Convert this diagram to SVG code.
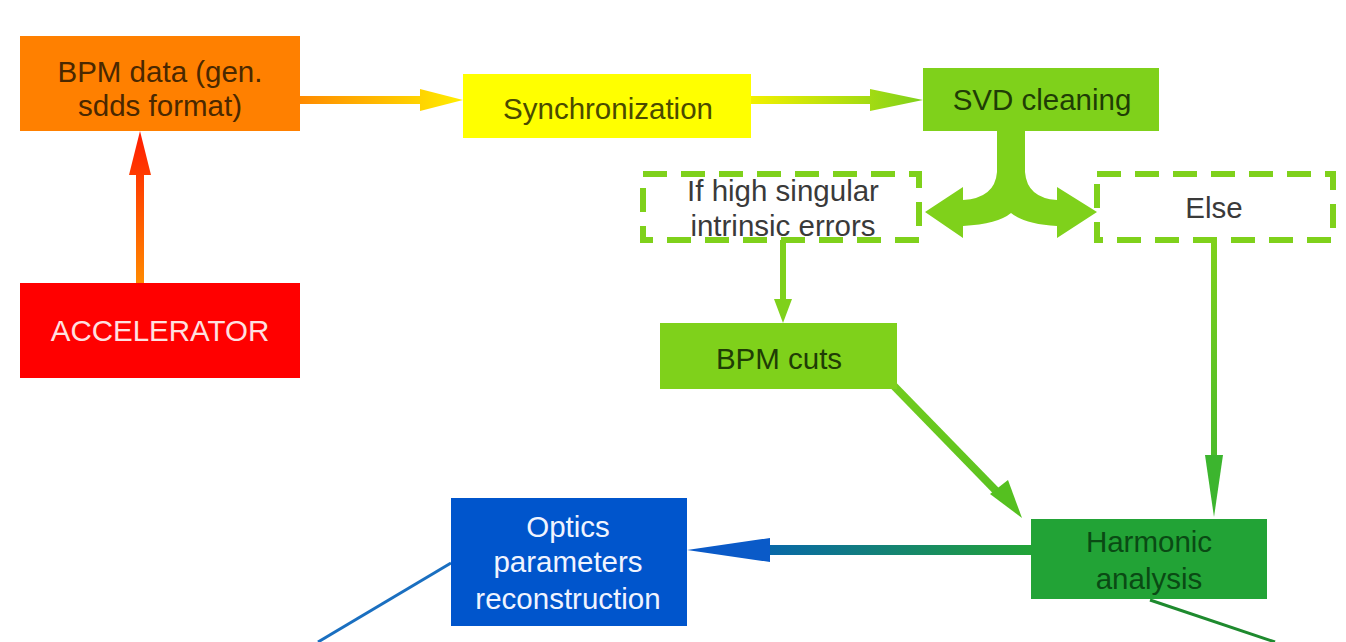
<svg xmlns="http://www.w3.org/2000/svg" width="1346" height="642" viewBox="0 0 1346 642">
<defs>
<style>
text{font-family:"Liberation Sans",Arial,sans-serif;font-size:29.5px;text-anchor:middle}
.dash{fill:none;stroke:#7fd11b;stroke-width:6;stroke-dasharray:24 14}
</style>
<linearGradient id="g1" gradientUnits="userSpaceOnUse" x1="300" y1="0" x2="463" y2="0"><stop offset="0" stop-color="#ff8a00"/><stop offset="1" stop-color="#ffee00"/></linearGradient>
<linearGradient id="g2" gradientUnits="userSpaceOnUse" x1="751" y1="0" x2="923" y2="0"><stop offset="0" stop-color="#f2f000"/><stop offset="1" stop-color="#7fd11b"/></linearGradient>
<linearGradient id="g3" gradientUnits="userSpaceOnUse" x1="0" y1="283" x2="0" y2="131"><stop offset="0" stop-color="#ff8a00"/><stop offset="1" stop-color="#ff1a00"/></linearGradient>
<linearGradient id="g4" gradientUnits="userSpaceOnUse" x1="0" y1="240" x2="0" y2="517"><stop offset="0" stop-color="#7fd11b"/><stop offset="1" stop-color="#3cb52e"/></linearGradient>
<linearGradient id="g5" gradientUnits="userSpaceOnUse" x1="893" y1="385" x2="1022" y2="517"><stop offset="0" stop-color="#72cc1e"/><stop offset="1" stop-color="#55c020"/></linearGradient>
<linearGradient id="g6" gradientUnits="userSpaceOnUse" x1="1031" y1="0" x2="687" y2="0"><stop offset="0" stop-color="#22a336"/><stop offset="1" stop-color="#0055cc"/></linearGradient>
</defs>
<g id="connectors">
<line x1="300" y1="100" x2="425" y2="100" stroke="url(#g1)" stroke-width="8"/>
<polygon points="420,89 463,100 420,111" fill="url(#g1)"/>
<line x1="751" y1="100" x2="875" y2="100" stroke="url(#g2)" stroke-width="8"/>
<polygon points="870,89 923,100 870,111" fill="url(#g2)"/>
<line x1="140" y1="283" x2="140" y2="170" stroke="url(#g3)" stroke-width="8"/>
<polygon points="129,175 140,131 151,175" fill="url(#g3)"/>
<path d="M997,130 H1025 V172 Q1027,198 1057,200 L1057,187 L1097,212 L1057,238 L1057,226 Q1024,224 1011,213 Q998,224 963,226 L963,238 L925,212 L963,187 L963,200 Q995,198 997,172 Z" fill="#7fd11b"/>
<line x1="783" y1="240" x2="783" y2="302" stroke="#7fd11b" stroke-width="6"/>
<polygon points="774,299 783,323 792,299" fill="#7fd11b"/>
<line x1="893" y1="385" x2="1004" y2="499" stroke="url(#g5)" stroke-width="8"/>
<polygon points="990,494 1022,518 1008,480" fill="#55c020"/>
<line x1="1214" y1="240" x2="1214" y2="460" stroke="url(#g4)" stroke-width="6"/>
<polygon points="1205,455 1214,517 1223,455" fill="#3cb52e"/>
<line x1="1031" y1="550" x2="765" y2="550" stroke="url(#g6)" stroke-width="10"/>
<polygon points="770,538 687,550 770,562" fill="#0a5ac8"/>
<line x1="451" y1="563" x2="318" y2="642" stroke="#1a6fc0" stroke-width="3"/>
<line x1="1150" y1="600" x2="1275" y2="642" stroke="#1e8a2e" stroke-width="3"/>
</g>
<g id="bpm-data"><rect x="20" y="36" width="280" height="95" fill="#ff8000"/><text x="160" y="82" fill="#4a2800">BPM data (gen.</text><text x="160" y="116" fill="#4a2800">sdds format)</text></g>
<g id="accelerator"><rect x="20" y="283" width="280" height="95" fill="#ff0000"/><text x="160" y="341" fill="#ffe0e0">ACCELERATOR</text></g>
<g id="synchronization"><rect x="463" y="74" width="288" height="64" fill="#ffff00"/><text x="608" y="119" fill="#4a4a00">Synchronization</text></g>
<g id="svd-cleaning"><rect x="923" y="68" width="236" height="63" fill="#7fd11b"/><text x="1042" y="110" fill="#1f3d05">SVD cleaning</text></g>
<g id="if-high"><rect class="dash" x="643" y="174" width="276" height="66"/><text x="783" y="201" fill="#3a3a3a">If high singular</text><text x="783" y="236" fill="#3a3a3a">intrinsic errors</text></g>
<g id="else"><rect class="dash" x="1097" y="174" width="236" height="66"/><text x="1214" y="218" fill="#3a3a3a">Else</text></g>
<g id="bpm-cuts"><rect x="660" y="323" width="237" height="66" fill="#7fd11b"/><text x="779" y="369" fill="#1f3d05">BPM cuts</text></g>
<g id="harmonic"><rect x="1031" y="519" width="236" height="80" fill="#22a336"/><text x="1149" y="552" fill="#0a4a14">Harmonic</text><text x="1149" y="589" fill="#0a4a14">analysis</text></g>
<g id="optics"><rect x="451" y="498" width="236" height="128" fill="#0055cc"/><text x="568" y="537" fill="#f0f4ff">Optics</text><text x="568" y="572" fill="#f0f4ff">parameters</text><text x="568" y="609" fill="#f0f4ff">reconstruction</text></g>
</svg>
